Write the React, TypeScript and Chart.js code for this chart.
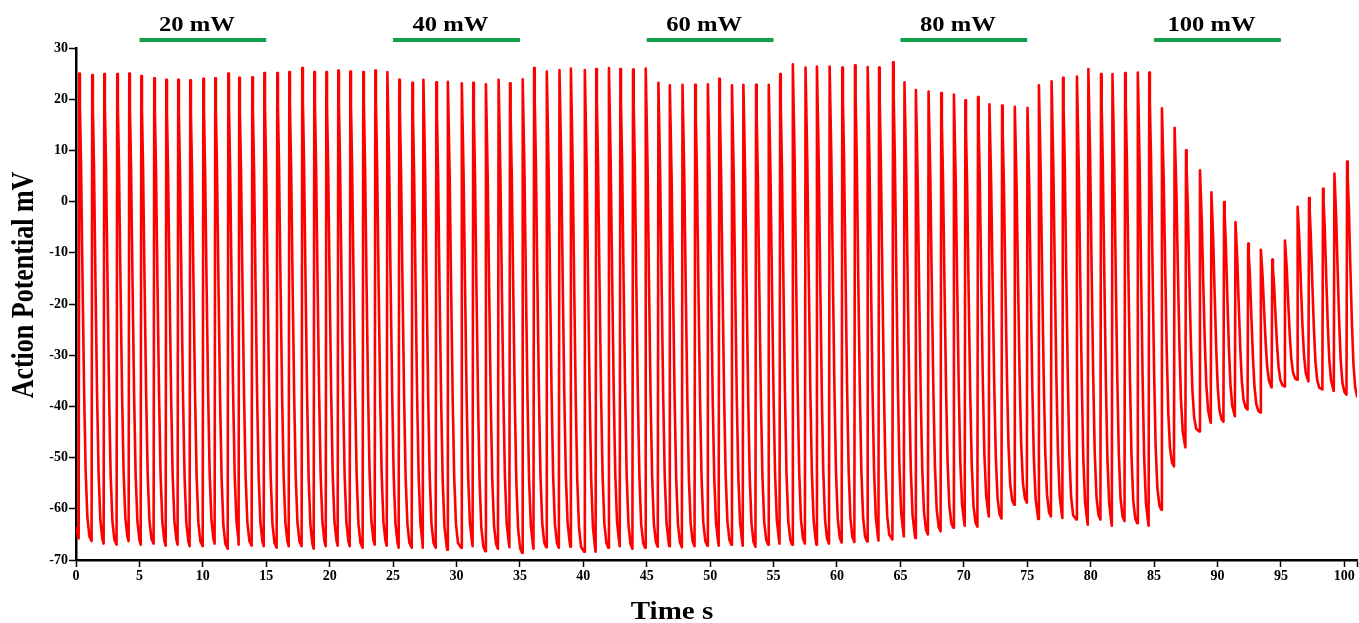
import React, { useEffect, useRef } from "react";
import { Chart, registerables } from "chart.js";

Chart.register(...registerables);

// Upstroke time of each action potential (s)
const SPIKE_TIMES = [
  0.24, 1.26, 2.21, 3.23, 4.18, 5.13, 6.15, 7.1, 8.04, 8.99, 10.02, 10.96, 11.99, 12.85, 13.88,
  14.83, 15.85, 16.8, 17.82, 18.77, 19.72, 20.66, 21.61, 22.63, 23.58, 24.53, 25.47, 26.5, 27.37, 28.39,
  29.3, 30.4, 31.3, 32.3, 33.3, 34.2, 35.2, 36.1, 37.1, 38.1, 39.0, 40.1, 41.0, 42.0, 42.9,
  43.9, 44.9, 45.9, 46.8, 47.8, 48.8, 49.8, 50.7, 51.7, 52.6, 53.6, 54.6, 55.5, 56.5, 57.5,
  58.4, 59.4, 60.4, 61.4, 62.4, 63.3, 64.4,
  65.3, 66.2, 67.2, 68.2, 69.2, 70.1, 71.1, 72.0, 73.0, 74.0, 75.0, 75.9, 76.9, 77.8, 78.9,
  79.8, 80.8, 81.7, 82.7, 83.7, 84.6, 85.6, 86.6, 87.5, 88.6, 89.5, 90.5, 91.4, 92.4, 93.4,
  94.3, 95.3, 96.3, 97.2, 98.3, 99.2, 100.2,
];

// Peak (overshoot) of each action potential (mV)
const PEAKS = [
  25.0, 24.7, 24.9, 24.9, 25.0, 24.5, 24.1, 23.8, 23.8, 23.7, 24.0, 24.1, 25.0, 24.2, 24.3,
  25.1, 25.1, 25.3, 26.1, 25.3, 25.3, 25.6, 25.4, 25.3, 25.6, 25.3, 23.8, 23.2, 23.8, 23.3,
  23.4, 23.1, 23.2, 22.9, 23.8, 23.1, 23.9, 26.1, 25.4, 25.7, 26.0, 25.7, 25.9, 26.1, 25.9,
  25.8, 26.0, 23.2, 22.7, 22.8, 22.8, 22.9, 24.0, 22.7, 22.8, 22.8, 22.8, 24.9, 26.8, 26.2,
  26.4, 26.4, 26.2, 26.6, 26.3, 26.2, 27.2,
  23.3, 21.8, 21.5, 21.2, 20.9, 19.8, 20.4, 19.0, 18.75, 18.5, 18.3, 22.7, 23.5, 24.2, 24.4,
  25.9, 24.9, 24.9, 25.1, 25.2, 25.2, 18.2, 14.4, 10.0, 6.1, 1.8, -0.1, -4.0, -8.2, -9.4,
  -11.3, -7.6, -1.0, 0.7, 2.5, 5.5, 7.8,
];

// Lowest (diastolic) potential reached after each action potential (mV)
const TROUGHS = [
  -66.3, -66.8, -67.0, -66.3, -67.0, -66.8, -67.2, -67.0, -67.3, -67.3, -66.8, -67.8, -67.0, -67.2, -67.3,
  -67.6, -67.3, -67.3, -67.8, -67.3, -67.2, -67.3, -67.6, -67.0, -67.2, -67.6, -67.6, -67.6, -67.6, -68.0,
  -67.6, -67.3, -68.3, -67.8, -67.5, -68.6, -67.8, -67.5, -67.6, -67.4, -68.4, -68.4, -67.6, -67.3, -67.8,
  -67.6, -67.4, -67.3, -67.5, -67.3, -67.2, -67.2, -67.0, -67.2, -67.4, -67.0, -66.8, -67.0, -66.8, -67.0,
  -66.8, -66.6, -66.5, -66.4, -66.2, -66.0, -65.4,
  -65.7, -65.0, -64.4, -63.7, -63.3, -63.5, -61.5, -61.9, -59.2, -58.8, -62.0, -61.5, -61.8, -62.1, -63.1,
  -62.1, -63.3, -62.4, -62.8, -63.3, -60.2, -51.7, -48.0, -44.9, -43.2, -43.0, -41.9, -40.6, -41.2, -36.3,
  -36.1, -34.8, -35.1, -36.7, -37.0, -37.7, -38.7,
];

const START_LEVEL = -63.5;
const FIRST_TROUGH = -65.8;

// Shape of one action potential: time after upstroke (s)
// and fraction of the way from the trough to the peak
const SHAPE_DT = [0.02, 0.07, 0.16, 0.28, 0.4, 0.52, 0.66, 0.82];
const SHAPE_FRAC = [1, 0.93, 0.8, 0.55, 0.32, 0.15, 0.05, 0.01];

const X_TICKS = [0, 5, 10, 15, 20, 25, 30, 35, 40, 45, 50, 55, 60, 65, 70, 75, 80, 85, 90, 95, 100, 101];
const X_MIN = 0;
const X_MAX = 101;
const Y_MIN = -70;
const Y_MAX = 30;
const Y_STEP = 10;

const PULSE_STARTS = [5, 25, 45, 65, 85];
const PULSE_ENDS = [15, 35, 55, 75, 95];
const PULSE_LABELS = ["20 mW", "40 mW", "60 mW", "80 mW", "100 mW"];

const X_TITLE = "Time s";
const Y_TITLE = "Action Potential mV";

const FONT = '"Liberation Serif", "Times New Roman", serif';

function buildTrace() {
  const pts: { x: number; y: number }[] = [{ x: X_MIN, y: START_LEVEL }];
  for (let i = 0; i < SPIKE_TIMES.length; i++) {
    const t = SPIKE_TIMES[i];
    const base = i === 0 ? FIRST_TROUGH : TROUGHS[i - 1];
    pts.push({ x: t - 0.03, y: base });
    const lo = TROUGHS[i];
    const hi = PEAKS[i];
    for (let k = 0; k < SHAPE_DT.length; k++) {
      pts.push({ x: t + SHAPE_DT[k], y: lo + SHAPE_FRAC[k] * (hi - lo) });
    }
  }
  return pts;
}

const annotationPlugin = {
  id: "pulseAnnotations",
  afterDraw(chart: any) {
    const { ctx, chartArea } = chart;
    const xs = chart.scales.x;
    ctx.save();
    for (let i = 0; i < PULSE_STARTS.length; i++) {
      const x0 = xs.getPixelForValue(PULSE_STARTS[i]);
      const x1 = xs.getPixelForValue(PULSE_ENDS[i]);
      const yBar = chartArea.top - 8;
      ctx.fillStyle = "#14a04a";
      ctx.fillRect(x0, yBar - 2, x1 - x0, 4);
      ctx.save();
      ctx.translate((x0 + x1) / 2 - 6, chartArea.top - 17);
      ctx.scale(1.23, 1);
      ctx.font = `bold 20px ${FONT}`;
      ctx.textAlign = "center";
      ctx.textBaseline = "alphabetic";
      ctx.fillStyle = "#000";
      ctx.fillText(PULSE_LABELS[i], 0, 0);
      ctx.restore();
    }
    // y-axis title
    ctx.save();
    ctx.translate(33, (chartArea.top + chartArea.bottom) / 2 - 19);
    ctx.scale(1.2, 1);
    ctx.rotate(-Math.PI / 2);
    ctx.font = `bold 26px ${FONT}`;
    ctx.textAlign = "center";
    ctx.textBaseline = "alphabetic";
    ctx.fillStyle = "#000";
    ctx.fillText(Y_TITLE, 0, 0);
    ctx.restore();
    // x-axis title
    ctx.save();
    ctx.translate(672, 619);
    ctx.scale(1.16, 1);
    ctx.font = `bold 25px ${FONT}`;
    ctx.textAlign = "center";
    ctx.textBaseline = "alphabetic";
    ctx.fillStyle = "#000";
    ctx.fillText(X_TITLE, 0, 0);
    ctx.restore();
    ctx.restore();
  },
};

export default function App() {
  const canvasRef = useRef<HTMLCanvasElement | null>(null);

  useEffect(() => {
    document.body.style.margin = "0";
    const canvas = canvasRef.current;
    if (!canvas) return;
    const tickFont = { family: FONT, weight: "bold" as const, size: 14 };
    const chart = new Chart(canvas, {
      type: "line",
      data: {
        datasets: [
          {
            data: buildTrace(),
            borderColor: "#ff0000",
            borderWidth: 2.6,
            borderJoinStyle: "round",
            pointRadius: 0,
            tension: 0,
            fill: false,
          },
        ],
      },
      options: {
        animation: false,
        responsive: false,
        parsing: false,
        layout: { padding: { left: 0, top: 48, right: 2, bottom: 0 } },
        plugins: { legend: { display: false }, tooltip: { enabled: false } },
        scales: {
          x: {
            type: "linear",
            min: X_MIN,
            max: X_MAX,
            afterBuildTicks: (s: any) => {
              s.ticks = X_TICKS.map((v) => ({ value: v }));
            },
            afterFit: (s: any) => {
              s.height = 63;
            },
            ticks: {
              autoSkip: false,
              maxRotation: 0,
              minRotation: 0,
              color: "#000",
              font: tickFont,
              padding: 1,
              callback: (v: any) => (Number(v) === X_MAX ? "" : String(v)),
            },
            grid: {
              drawOnChartArea: false,
              drawTicks: true,
              tickLength: 7,
              tickColor: "#000",
              tickWidth: 1.5,
            },
            border: { display: true, color: "#000", width: 2.5 },
          },
          y: {
            type: "linear",
            min: Y_MIN,
            max: Y_MAX,
            afterFit: (s: any) => {
              s.width = 76;
            },
            ticks: {
              stepSize: Y_STEP,
              color: "#000",
              font: tickFont,
              padding: 1,
            },
            grid: {
              drawOnChartArea: false,
              drawTicks: true,
              tickLength: 7,
              tickColor: "#000",
              tickWidth: 1.5,
            },
            border: { display: true, color: "#000", width: 2.5 },
          },
        },
      },
      plugins: [annotationPlugin],
    } as any);
    return () => chart.destroy();
  }, []);

  return (
    <div style={{ width: 1359, height: 623, background: "#fff" }}>
      <canvas ref={canvasRef} width={1359} height={623} style={{ display: "block" }} />
    </div>
  );
}
